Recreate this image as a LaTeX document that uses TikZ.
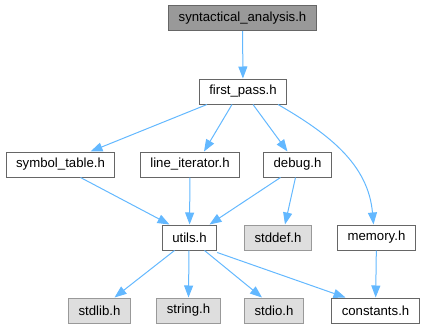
\documentclass[tikz,border=0pt]{standalone}
\usepackage{fontspec}
\setmainfont{Liberation Sans}
\usetikzlibrary{arrows.meta}
\definecolor{edgeblue}{HTML}{63B8FF}
\definecolor{grey40}{HTML}{666666}
\definecolor{grey60}{HTML}{999999}
\definecolor{grey87}{HTML}{DEDEDE}
\begin{document}
\begin{tikzpicture}[x=1pt,y=-1pt,
    hdr/.style={draw=grey40,fill=white,line width=1pt,minimum height=25pt,
        inner xsep=10pt,inner ysep=0pt,font=\fontsize{13.2}{15}\selectfont},
    root/.style={hdr,fill=grey60},
    sys/.style={hdr,draw=grey60,fill=grey87},
    dep/.style={draw=edgeblue,line width=1pt,-{Triangle[length=12pt,width=9pt]}}]
\useasboundingbox (0,0) rectangle (427,329);
\node [root] (sa) at (242.5,18) {syntactical\_analysis.h};
\node [hdr] (fp) at (243,91.5) {first\_pass.h};
\node [hdr] (st) at (60.5,164.5) {symbol\_table.h};
\node [hdr] (li) at (190,164.5) {line\_iterator.h};
\node [hdr] (dbg) at (297.5,164.5) {debug.h};
\node [hdr] (ut) at (189.5,237.5) {utils.h};
\node [sys] (sd) at (278,237.5) {stddef.h};
\node [hdr] (mem) at (376.5,237.5) {memory.h};
\node [sys] (sl) at (99.5,310.5) {stdlib.h};
\node [sys] (sg) at (188.5,310.5) {string.h};
\node [sys] (sio) at (274,310.5) {stdio.h};
\node [hdr] (cst) at (375.5,310.5) {constants.h};
\draw [dep] (sa) -- (fp);
\draw [dep] ([xshift=-36pt]fp.south) -- ([xshift=30pt]st.north);
\draw [dep] ([xshift=-11pt]fp.south) -- ([xshift=14pt]li.north);
\draw [dep] ([xshift=10pt]fp.south) -- ([xshift=-10pt]dbg.north);
\draw [dep] ([xshift=35pt]fp.south) to [out=-30,in=95] ([xshift=-3pt]mem.north);
\draw [dep] ([xshift=20pt]st.south) -- ([xshift=-20pt]ut.north);
\draw [dep] (li) -- (ut);
\draw [dep] ([xshift=-17pt]dbg.south) -- ([xshift=20pt]ut.north);
\draw [dep] ([xshift=-2pt]dbg.south) -- ([xshift=7pt]sd.north);
\draw [dep] ([xshift=-15pt]ut.south) -- ([xshift=15pt]sl.north);
\draw [dep] ([xshift=-0.5pt]ut.south) -- (sg.north);
\draw [dep] ([xshift=15pt]ut.south) -- ([xshift=-12pt]sio.north);
\draw [dep] ([yshift=-2pt]ut.south east) -- ([xshift=-30pt]cst.north);
\draw [dep] (mem) -- (cst);
\end{tikzpicture}
\end{document}
